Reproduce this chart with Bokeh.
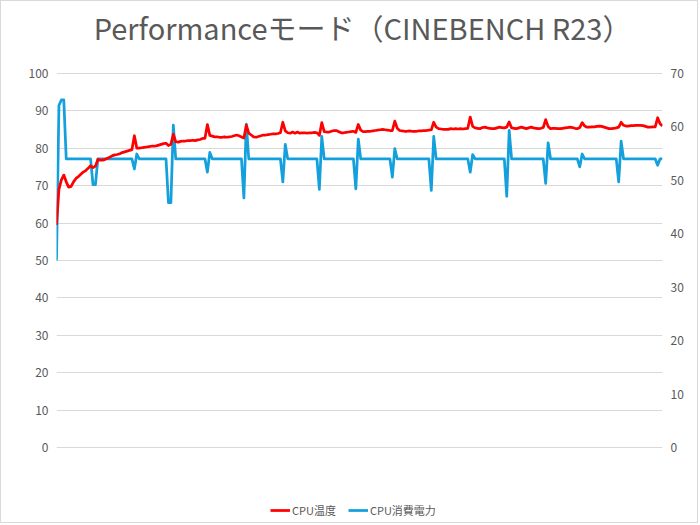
from bokeh.plotting import figure
from bokeh.models import Range1d, LinearAxis, Legend, LegendItem, FixedTicker, ColumnDataSource, Label
from bokeh.embed import file_html
from bokeh.resources import INLINE

title_text = "Performanceモード（CINEBENCH R23）"
legend_labels = ["CPU温度", "CPU消費電力"]
temp_ticks = [0, 10, 20, 30, 40, 50, 60, 70, 80, 90, 100]
power_ticks = [0, 10, 20, 30, 40, 50, 60, 70]

cpu_temp = [
    59.5, 69.0, 71.5, 72.8, 71.0, 69.6, 69.8, 71.0, 71.9, 72.4,
    73.0, 73.6, 74.0, 74.6, 75.3, 74.8, 75.2, 77.0, 76.8, 76.8,
    77.0, 77.3, 77.6, 78.0, 78.2, 78.3, 78.5, 78.8, 79.0, 79.2,
    79.4, 79.6, 83.3, 80.0, 80.0, 80.1, 80.2, 80.3, 80.4, 80.5,
    80.5, 80.6, 80.8, 81.0, 81.2, 81.3, 80.7, 81.0, 83.7, 81.7,
    81.6, 81.8, 81.9, 81.9, 82.0, 82.0, 82.1, 82.0, 82.2, 82.3,
    82.6, 82.6, 86.3, 83.4, 83.2, 83.0, 83.0, 82.9, 82.9, 83.0,
    82.9, 83.0, 83.1, 83.3, 83.5, 83.3, 83.0, 82.7, 86.1, 84.0,
    83.5, 83.0, 82.9, 83.1, 83.3, 83.5, 83.5, 83.6, 83.7, 83.8,
    83.8, 83.9, 84.1, 86.9, 84.6, 84.1, 84.0, 84.3, 84.0, 84.3,
    84.0, 84.1, 84.1, 84.0, 84.1, 84.1, 84.2, 84.1, 83.4, 86.8,
    84.4, 84.3, 84.3, 84.5, 84.7, 84.7, 84.4, 84.1, 84.1, 84.2,
    84.3, 84.4, 84.5, 84.2, 86.3, 84.8, 84.4, 84.4, 84.5, 84.5,
    84.6, 84.7, 84.8, 84.9, 85.0, 84.9, 84.8, 84.7, 84.7, 87.2,
    85.3, 84.7, 84.6, 84.5, 84.5, 84.6, 84.5, 84.5, 84.5, 84.6,
    84.6, 84.7, 84.7, 84.8, 84.9, 86.9, 85.6, 85.2, 85.1, 85.0,
    85.0, 85.0, 85.2, 85.1, 85.2, 85.1, 85.2, 85.1, 85.2, 85.3,
    88.3, 85.8, 85.4, 85.3, 85.2, 85.5, 85.6, 85.4, 85.3, 85.2,
    85.2, 85.4, 85.6, 85.5, 85.4, 85.6, 87.0, 85.4, 85.3, 85.2,
    85.4, 85.6, 85.4, 85.2, 85.4, 85.6, 85.4, 85.3, 85.2, 85.3,
    85.5, 87.6, 85.8, 85.2, 85.3, 85.3, 85.2, 85.2, 85.3, 85.4,
    85.5, 85.6, 85.5, 85.3, 85.2, 85.5, 86.8, 85.9, 85.6, 85.6,
    85.7, 85.7, 85.8, 85.9, 85.8, 85.6, 85.4, 85.2, 85.2, 85.3,
    85.4, 85.6, 86.9, 86.1, 85.9, 85.9, 86.0, 86.0, 86.1, 86.1,
    86.1, 86.0, 85.8, 85.6, 85.6, 85.7, 85.7, 88.1, 86.5, 85.9,
]

cpu_power = [
    35, 64, 65, 65, 54, 54, 54, 54, 54, 54,
    54, 54, 54, 54, 54, 49.2, 49.2, 54, 54, 54,
    54, 54, 54, 54, 54, 54, 54, 54, 54, 54,
    54, 54, 52.1, 54.9, 54, 54, 54, 54, 54, 54,
    54, 54, 54, 54, 54, 54, 45.8, 45.8, 60.3, 54,
    54, 54, 54, 54, 54, 54, 54, 54, 54, 54,
    54, 54, 51.5, 55.2, 54, 54, 54, 54, 54, 54,
    54, 54, 54, 54, 54, 54, 54, 46.7, 60.5, 54,
    54, 54, 54, 54, 54, 54, 54, 54, 54, 54,
    54, 54, 54, 49.7, 56.7, 54, 54, 54, 54, 54,
    54, 54, 54, 54, 54, 54, 54, 54, 48.3, 58.2,
    54, 54, 54, 54, 54, 54, 54, 54, 54, 54,
    54, 54, 54, 48.4, 57.7, 54, 54, 54, 54, 54,
    54, 54, 54, 54, 54, 54, 54, 54, 50.6, 55.9,
    54, 54, 54, 54, 54, 54, 54, 54, 54, 54,
    54, 54, 54, 54, 48.1, 58.2, 54, 54, 54, 54,
    54, 54, 54, 54, 54, 54, 54, 54, 54, 54,
    51.5, 54.8, 54, 54, 54, 54, 54, 54, 54, 54,
    54, 54, 54, 54, 54, 47.0, 59.3, 54, 54, 54,
    54, 54, 54, 54, 54, 54, 54, 54, 54, 54,
    54, 49.4, 57.0, 54, 54, 54, 54, 54, 54, 54,
    54, 54, 54, 54, 54, 52.5, 54.9, 54, 54, 54,
    54, 54, 54, 54, 54, 54, 54, 54, 54, 54,
    54, 49.7, 57.3, 54, 54, 54, 54, 54, 54, 54,
    54, 54, 54, 54, 54, 54, 54, 52.8, 54, 54,
]

sample = list(range(len(cpu_temp)))
source = ColumnDataSource(dict(t=sample, temp=cpu_temp, power=cpu_power))

FONT = "Noto Sans CJK JP"
GRAY = "#595959"

# The frame fills the full height; the 0-100 (left) and 0-70 (right) scales
# occupy the middle band, leaving room above for the title and below for the legend.
PX_PER_UNIT = 3.746
TOP_PX = 446.3      # pixels above the zero line inside the canvas
BOTTOM_PX = 76.7    # pixels below the zero line
y_lo = -BOTTOM_PX / PX_PER_UNIT
y_hi = TOP_PX / PX_PER_UNIT
k = power_ticks[-1] / temp_ticks[-1]

p = figure(
    width=698, height=523,
    x_range=Range1d(0, len(sample) - 1),
    y_range=Range1d(y_lo, y_hi),
    output_backend="svg", toolbar_location=None,
    min_border_left=55, min_border_right=37,
    min_border_top=0, min_border_bottom=0,
    x_axis_location=None, y_axis_location=None,
)
p.title.visible = False
p.styles = {"border": "1px solid #d9d9d9"}
p.outline_line_color = None
p.extra_y_ranges = {"power": Range1d(y_lo * k, y_hi * k)}

left_axis = LinearAxis(ticker=FixedTicker(ticks=temp_ticks))
right_axis = LinearAxis(ticker=FixedTicker(ticks=power_ticks), y_range_name="power")
for ax in (left_axis, right_axis):
    ax.axis_line_color = None
    ax.major_tick_line_color = None
    ax.minor_tick_line_color = None
    ax.major_tick_in = 0
    ax.major_tick_out = 0
    ax.major_label_standoff = 8
    ax.major_label_text_font = FONT
    ax.major_label_text_font_size = "12px"
    ax.major_label_text_color = GRAY
p.add_layout(left_axis, "left")
p.add_layout(right_axis, "right")

p.xgrid.visible = False
p.ygrid.ticker = FixedTicker(ticks=temp_ticks)
p.ygrid.grid_line_color = "#d9d9d9"
p.ygrid.grid_line_width = 1

r_power = p.line("t", "power", source=source, y_range_name="power",
                 line_color="#14a0dc", line_width=2.75, line_join="round")
r_temp = p.line("t", "temp", source=source,
                line_color="#ff0000", line_width=2.75, line_join="round")

title = Label(
    x=(len(sample) - 1) * 0.505, y=(TOP_PX - 25) / PX_PER_UNIT,
    text=title_text, text_align="center", text_baseline="middle",
    text_font=FONT, text_font_size="29px", text_color=GRAY,
)
p.add_layout(title)

legend = Legend(
    items=[LegendItem(label=legend_labels[0], renderers=[r_temp]),
           LegendItem(label=legend_labels[1], renderers=[r_power])],
    orientation="horizontal", location=(214, 6),
    glyph_width=20, glyph_height=12, label_height=14, label_standoff=2,
    spacing=12, padding=0, margin=0,
    border_line_color=None, background_fill_alpha=0,
    label_text_font=FONT, label_text_font_size="11px", label_text_color=GRAY,
)
p.add_layout(legend, "center")

open("out.html", "w").write(file_html(p, INLINE))
